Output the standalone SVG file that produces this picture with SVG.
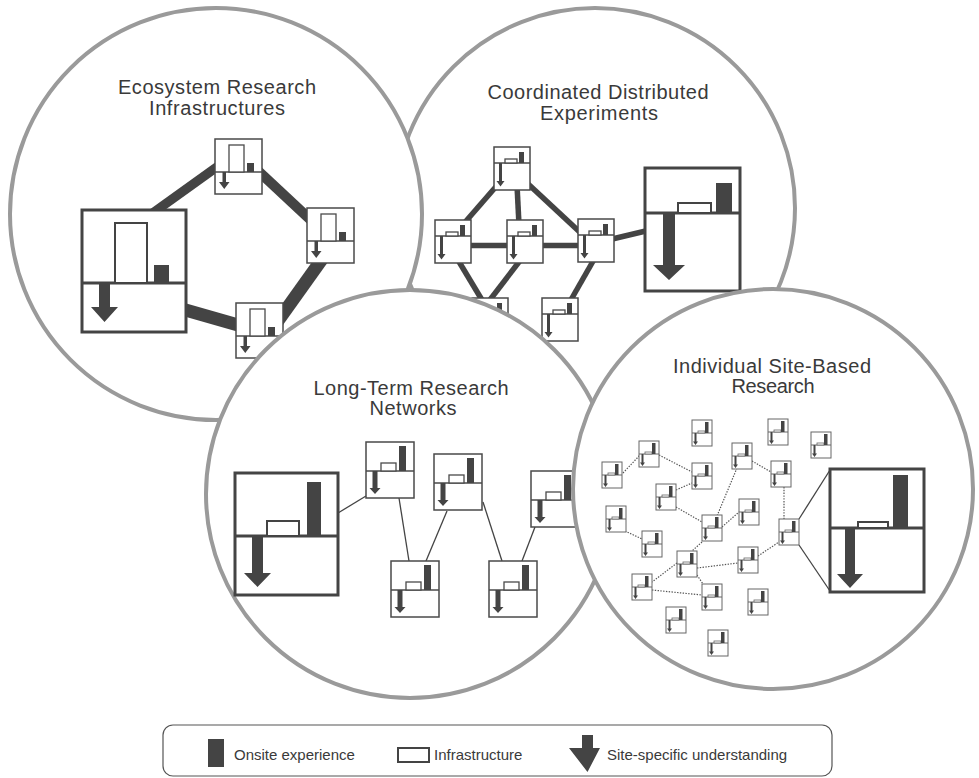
<svg xmlns="http://www.w3.org/2000/svg" xmlns:xlink="http://www.w3.org/1999/xlink" width="979" height="778" viewBox="0 0 979 778">
<style>
.circ{fill:#fff;stroke:#9a9a9a;stroke-width:4}
.box{fill:#fff;stroke:#4a4a4a;stroke-width:1.5}
.bigbox{fill:#fff;stroke:#444;stroke-width:3}
.ln{stroke:#4a4a4a;stroke-width:1.5;fill:none}
.bigln{stroke:#444;stroke-width:3;fill:none}
.inf{fill:#fff;stroke:#4a4a4a;stroke-width:1.3}
.biginf{fill:#fff;stroke:#444;stroke-width:2}
.dk{fill:#444}
.band{stroke:#444;fill:none}
.thin{stroke:#444;stroke-width:1.3;fill:none}
.dot{stroke:#555;stroke-width:1.2;stroke-dasharray:1.4 1.4;fill:none}
.title{font-family:"Liberation Sans",Arial,sans-serif;font-size:20px;fill:#3a3a3a;text-anchor:middle}
.leg{font-family:"Liberation Sans",Arial,sans-serif;font-size:15px;fill:#3a3a3a}
.tiny{fill:#fff;stroke:#666;stroke-width:1}
</style>
<defs>
<g id="t1">
<rect class="box" x="0" y="0" width="47" height="55"/>
<line class="ln" x1="0" y1="33" x2="47" y2="33"/>
<rect class="inf" x="14" y="6" width="15" height="27"/>
<rect class="dk" x="32" y="24" width="7" height="9"/>
<polygon class="dk" points="7.5,33 11,33 11,43 14.5,43 9.25,50 4,43 7.5,43"/>
</g>
<g id="t2">
<rect class="box" x="0" y="0" width="36" height="43"/>
<line class="ln" x1="0" y1="16" x2="36" y2="16"/>
<rect class="inf" x="11" y="12" width="12" height="4"/>
<rect class="dk" x="25" y="5" width="5" height="11"/>
<polygon class="dk" points="5,16 8,16 8,34 10.5,34 6.5,39.5 2.5,34 5,34"/>
</g>
<g id="t3">
<rect class="box" x="0" y="0" width="48" height="56"/>
<line class="ln" x1="0" y1="29" x2="48" y2="29"/>
<rect class="inf" x="15" y="21" width="15" height="8"/>
<rect class="dk" x="33" y="4" width="7" height="25"/>
<polygon class="dk" points="6.5,29 11.5,29 11.5,46 14.5,46 9,52 3.5,46 6.5,46"/>
</g>
<g id="t4">
<rect class="tiny" x="0" y="0" width="20" height="26"/>
<line stroke="#666" stroke-width="1" x1="0" y1="13" x2="20" y2="13"/>
<rect fill="#fff" stroke="#666" stroke-width="0.8" x="6" y="11" width="7" height="2"/>
<rect class="dk" x="13" y="2" width="3.5" height="11"/>
<polygon class="dk" points="2.5,13 4.5,13 4.5,21.5 6,21.5 3.5,25 1,21.5 2.5,21.5"/>
</g>
</defs>

<!-- Circle 2: Coordinated Distributed Experiments -->
<g id="circle-cde">
<circle class="circ" cx="595" cy="208" r="200"/>
<text class="title" x="598" y="99" textLength="221" lengthAdjust="spacing">Coordinated Distributed</text>
<text class="title" x="599" y="120" textLength="118" lengthAdjust="spacing">Experiments</text>
</g>
<g id="connectors-cde">
<line class="band" stroke-width="5.5" x1="500" y1="182" x2="460" y2="228"/>
<line class="band" stroke-width="5.5" x1="517" y1="185" x2="519" y2="225"/>
<line class="band" stroke-width="5.5" x1="526" y1="182" x2="584" y2="236"/>
<line class="band" stroke-width="5.5" x1="465" y1="245.5" x2="512" y2="245.5"/>
<line class="band" stroke-width="5.5" x1="537" y1="245.5" x2="584" y2="245.5"/>
<line class="band" stroke-width="5.5" x1="455" y1="255" x2="485" y2="305"/>
<line class="band" stroke-width="5.5" x1="522" y1="258" x2="486" y2="305"/>
<line class="band" stroke-width="5.5" x1="596" y1="256" x2="568" y2="305"/>
<line class="band" stroke-width="5.5" x1="608" y1="240" x2="650" y2="230"/>
</g>
<g id="cde-node-top"><use xlink:href="#t2" transform="translate(494,147)"/></g>
<g id="cde-node-left"><use xlink:href="#t2" transform="translate(435,220)"/></g>
<g id="cde-node-mid"><use xlink:href="#t2" transform="translate(507,220)"/></g>
<g id="cde-node-right"><use xlink:href="#t2" transform="translate(578,219)"/></g>
<g id="cde-node-botleft"><use xlink:href="#t2" transform="translate(472,298)"/></g>
<g id="cde-node-botmid"><use xlink:href="#t2" transform="translate(542,298)"/></g>
<g id="cde-node-big">
<rect class="bigbox" x="645" y="168" width="95" height="123"/>
<line class="bigln" x1="645" y1="213" x2="740" y2="213"/>
<rect class="biginf" x="678" y="203" width="33" height="10"/>
<rect class="dk" x="716" y="183" width="16" height="30"/>
<polygon class="dk" points="663,213 675,213 675,265 685,265 669,280 653,265 663,265"/>
</g>

<!-- Circle 1: Ecosystem Research Infrastructures -->
<g id="circle-eri">
<circle class="circ" cx="216" cy="214" r="206"/>
<text class="title" x="217" y="94" textLength="198" lengthAdjust="spacing">Ecosystem Research</text>
<text class="title" x="217" y="115" textLength="136" lengthAdjust="spacing">Infrastructures</text>
</g>
<g id="connectors-eri">
<line class="band" stroke-width="9.5" x1="143" y1="220" x2="228" y2="159"/>
<line class="band" stroke-width="10" x1="255" y1="168" x2="315" y2="224"/>
<line class="band" stroke-width="13" x1="175" y1="307" x2="245" y2="327"/>
<line class="band" stroke-width="13" x1="325" y1="255" x2="275" y2="325"/>
</g>
<g id="eri-node-top"><use xlink:href="#t1" transform="translate(215,139)"/></g>
<g id="eri-node-right"><use xlink:href="#t1" transform="translate(307,208)"/></g>
<g id="eri-node-bottom"><use xlink:href="#t1" transform="translate(236,303)"/></g>
<g id="eri-node-big">
<rect class="bigbox" x="82" y="210" width="104" height="122"/>
<line class="bigln" x1="82" y1="283" x2="186" y2="283"/>
<rect class="biginf" x="115" y="223" width="32" height="60"/>
<rect class="dk" x="154" y="265" width="15" height="18"/>
<polygon class="dk" points="99,283 110,283 110,307 118,307 104.5,322 91,307 99,307"/>
</g>

<!-- Circle 3: Long-Term Research Networks -->
<g id="circle-ltrn">
<circle class="circ" cx="410" cy="494" r="204"/>
<text class="title" x="411" y="395" textLength="195" lengthAdjust="spacing">Long-Term Research</text>
<text class="title" x="413" y="415" textLength="87" lengthAdjust="spacing">Networks</text>
</g>
<g id="connectors-ltrn">
<line class="thin" x1="338" y1="513" x2="366" y2="496"/>
<line class="thin" x1="399" y1="498" x2="409" y2="561"/>
<line class="thin" x1="426" y1="561" x2="447" y2="511"/>
<line class="thin" x1="483" y1="502" x2="502" y2="561"/>
<line class="thin" x1="522" y1="561" x2="535" y2="527"/>
</g>
<g id="ltrn-node-a"><use xlink:href="#t3" transform="translate(366,442)"/></g>
<g id="ltrn-node-b"><use xlink:href="#t3" transform="translate(434,454)"/></g>
<g id="ltrn-node-c"><use xlink:href="#t3" transform="translate(531,471)"/></g>
<g id="ltrn-node-d"><use xlink:href="#t3" transform="translate(391,561)"/></g>
<g id="ltrn-node-e"><use xlink:href="#t3" transform="translate(489,561)"/></g>
<g id="ltrn-node-big">
<rect class="bigbox" x="235" y="473" width="103" height="122"/>
<line class="bigln" x1="235" y1="536" x2="338" y2="536"/>
<rect class="biginf" x="267" y="521" width="32" height="15"/>
<rect class="dk" x="307" y="482" width="14" height="54"/>
<polygon class="dk" points="252,536 263,536 263,573 271,573 257.5,587 244,573 252,573"/>
</g>

<!-- Circle 4: Individual Site-Based Research -->
<g id="circle-isbr">
<circle class="circ" cx="773" cy="489" r="200"/>
<text class="title" x="772" y="373" textLength="198" lengthAdjust="spacing">Individual Site-Based</text>
<text class="title" x="773" y="393" textLength="83" lengthAdjust="spacing">Research</text>
</g>
<g id="connectors-isbr">
<line class="dot" x1="623" y1="473" x2="640" y2="455"/>
<line class="dot" x1="659" y1="455" x2="692" y2="472"/>
<line class="dot" x1="676" y1="490" x2="692" y2="483"/>
<line class="dot" x1="676" y1="507" x2="702" y2="522"/>
<line class="dot" x1="737" y1="468" x2="717" y2="516"/>
<line class="dot" x1="752" y1="461" x2="771" y2="472"/>
<line class="dot" x1="784" y1="487" x2="784" y2="519"/>
<line class="dot" x1="722" y1="527" x2="739" y2="512"/>
<line class="dot" x1="625" y1="531" x2="642" y2="539"/>
<line class="dot" x1="702" y1="542" x2="692" y2="551"/>
<line class="dot" x1="697" y1="568" x2="738" y2="563"/>
<line class="dot" x1="758" y1="556" x2="779" y2="542"/>
<line class="dot" x1="677" y1="563" x2="652" y2="582"/>
<line class="dot" x1="697" y1="575" x2="703" y2="584"/>
<line class="dot" x1="652" y1="590" x2="702" y2="595"/>
<line class="thin" stroke-width="1.5" x1="799" y1="519" x2="830" y2="470"/>
<line class="thin" stroke-width="1.5" x1="799" y1="545" x2="830" y2="591"/>
</g>
<g id="isbr-node-1"><use xlink:href="#t4" transform="translate(692,420)"/></g>
<g id="isbr-node-2"><use xlink:href="#t4" transform="translate(768,419)"/></g>
<g id="isbr-node-3"><use xlink:href="#t4" transform="translate(811,432)"/></g>
<g id="isbr-node-4"><use xlink:href="#t4" transform="translate(639,441)"/></g>
<g id="isbr-node-5"><use xlink:href="#t4" transform="translate(732,443)"/></g>
<g id="isbr-node-6"><use xlink:href="#t4" transform="translate(602,462)"/></g>
<g id="isbr-node-7"><use xlink:href="#t4" transform="translate(692,463)"/></g>
<g id="isbr-node-8"><use xlink:href="#t4" transform="translate(771,461)"/></g>
<g id="isbr-node-9"><use xlink:href="#t4" transform="translate(656,484)"/></g>
<g id="isbr-node-10"><use xlink:href="#t4" transform="translate(606,506)"/></g>
<g id="isbr-node-11"><use xlink:href="#t4" transform="translate(739,499)"/></g>
<g id="isbr-node-12"><use xlink:href="#t4" transform="translate(702,515)"/></g>
<g id="isbr-node-13"><use xlink:href="#t4" transform="translate(779,519)"/></g>
<g id="isbr-node-14"><use xlink:href="#t4" transform="translate(642,531)"/></g>
<g id="isbr-node-15"><use xlink:href="#t4" transform="translate(738,547)"/></g>
<g id="isbr-node-16"><use xlink:href="#t4" transform="translate(677,551)"/></g>
<g id="isbr-node-17"><use xlink:href="#t4" transform="translate(632,574)"/></g>
<g id="isbr-node-18"><use xlink:href="#t4" transform="translate(702,584)"/></g>
<g id="isbr-node-19"><use xlink:href="#t4" transform="translate(748,589)"/></g>
<g id="isbr-node-20"><use xlink:href="#t4" transform="translate(666,607)"/></g>
<g id="isbr-node-21"><use xlink:href="#t4" transform="translate(708,630)"/></g>
<g id="isbr-node-big">
<rect class="bigbox" x="830" y="469" width="94" height="123"/>
<line class="bigln" x1="830" y1="528" x2="924" y2="528"/>
<rect class="biginf" x="858" y="522" width="30" height="6"/>
<rect class="dk" x="893" y="475" width="15" height="53"/>
<polygon class="dk" points="845,528 855,528 855,574 863,574 850,588 837,574 845,574"/>
</g>

<!-- Legend -->
<g id="legend">
<rect x="163" y="725" width="669" height="51" rx="10" ry="10" fill="#fff" stroke="#555" stroke-width="1.2"/>
<rect class="dk" x="208" y="739" width="16" height="28"/>
<text class="leg" x="234" y="760">Onsite experience</text>
<rect x="398" y="748" width="31" height="14" fill="#fff" stroke="#444" stroke-width="2"/>
<text class="leg" x="434" y="760">Infrastructure</text>
<polygon class="dk" points="582,735 593,735 593,748 600,748 587.5,772 569,748 582,748"/>
<text class="leg" x="607" y="760">Site-specific understanding</text>
</g>
</svg>
